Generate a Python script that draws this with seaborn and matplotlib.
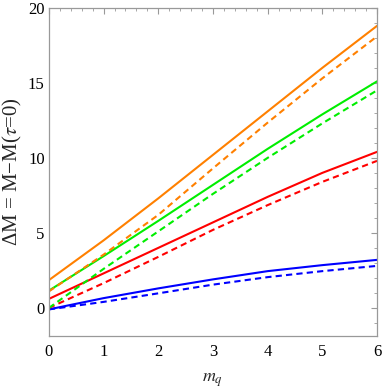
import numpy as np
import pandas as pd
import matplotlib
matplotlib.use("Agg")
import matplotlib.pyplot as plt
import seaborn as sns
from matplotlib.ticker import MultipleLocator

# ------------------ Data ------------------
mq = [0, 1, 2, 3, 4, 5, 6]

orange_solid = [1.85, 4.5, 7.3, 10.2, 13.1, 16.0, 18.8]
orange_dashed = [1.1, 3.55, 6.2, 9.3, 12.35, 15.3, 18.1]
green_solid = [1.15, 3.45, 5.8, 8.2, 10.6, 12.9, 15.1]
green_dashed = [0.0, 2.6, 5.1, 7.6, 10.0, 12.3, 14.5]
red_solid = [0.6, 2.3, 4.0, 5.7, 7.4, 9.0, 10.4]
red_dashed = [0.0, 1.65, 3.4, 5.2, 6.85, 8.4, 9.8]
blue_solid = [-0.1, 0.65, 1.3, 1.9, 2.45, 2.85, 3.2]
blue_dashed = [-0.1, 0.4, 0.97, 1.55, 2.05, 2.45, 2.8]

series = [
    ("blue", "solid", blue_solid),
    ("blue", "dashed", blue_dashed),
    ("red", "solid", red_solid),
    ("red", "dashed", red_dashed),
    ("green", "solid", green_solid),
    ("green", "dashed", green_dashed),
    ("orange", "solid", orange_solid),
    ("orange", "dashed", orange_dashed),
]
colors = {"blue": "#0000ff", "red": "#ff0000", "green": "#00ee00", "orange": "#ff8000"}

rows = []
for col, sty, vals in series:
    for x, y in zip(mq, vals):
        rows.append({"mq": x, "dM": y, "color": col, "style": sty, "name": col + "_" + sty})
df = pd.DataFrame(rows)

# ------------------ Plot ------------------
sns.set_style("white")
plt.rcParams["font.family"] = ["Liberation Serif", "DejaVu Serif"]
plt.rcParams["mathtext.fontset"] = "stix"

fig = plt.figure(figsize=(3.82, 3.92), dpi=100)
ax = fig.add_axes([0.128, 0.143, 0.859, 0.837])

for name, sub in df.groupby("name", sort=False):
    col = sub["color"].iloc[0]
    sty = sub["style"].iloc[0]
    line_kw = {"dashes": (3, 2)} if sty == "dashed" else {}
    sns.lineplot(data=sub, x="mq", y="dM", color=colors[col], lw=1.5,
                 ax=ax, legend=False, **line_kw)

ax.set_xlim(0, 6)
ax.set_ylim(-1.87, 20)
ax.xaxis.set_major_locator(MultipleLocator(1))
ax.xaxis.set_minor_locator(MultipleLocator(0.2))
ax.yaxis.set_major_locator(MultipleLocator(5))
ax.yaxis.set_minor_locator(MultipleLocator(1))

gray = "#999999"
for sp in ax.spines.values():
    sp.set_color(gray)
    sp.set_linewidth(0.9)
ax.tick_params(which="both", direction="in", top=True, right=True,
               color=gray, labelsize=12, labelcolor="black")
ax.tick_params(which="major", length=4.5, width=0.8)
ax.tick_params(which="minor", length=2.5, width=0.6)
ax.tick_params(axis="x", which="major", pad=6)
ax.tick_params(axis="y", which="major", pad=3)

ax.set_xlabel(r"$m_q$", fontsize=13, labelpad=8)
ax.set_ylabel(r"ΔM = M−M($\tau$=0)", fontsize=15, labelpad=3)

fig.savefig("out.png", dpi=100)
